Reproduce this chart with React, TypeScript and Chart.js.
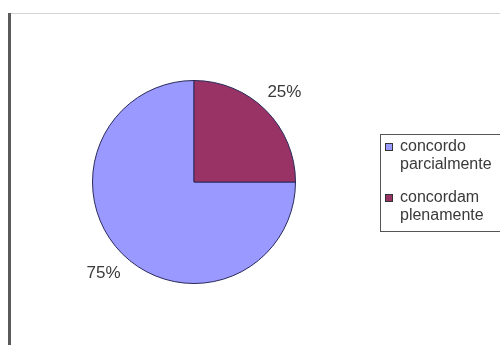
import React, { useEffect, useRef } from "react";
import { Chart, registerables } from "chart.js";

Chart.register(...registerables);

const categories: string[][] = [
  ["concordo", "parcialmente"],
  ["concordam", "plenamente"],
];
const values: number[] = [75, 25];
const percentLabels: string[] = ["75%", "25%"];
const colors: string[] = ["#9999FF", "#993366"];

const FONT = '"Liberation Sans", Arial, sans-serif';

const framePlugin = {
  id: "frame",
  beforeDraw(chart: any) {
    const ctx = chart.ctx;
    ctx.save();
    ctx.fillStyle = "#ffffff";
    ctx.fillRect(0, 0, chart.width, chart.height);
    ctx.strokeStyle = "#d4d4d4";
    ctx.lineWidth = 1;
    ctx.beginPath();
    ctx.moveTo(10, 13.5);
    ctx.lineTo(chart.width, 13.5);
    ctx.stroke();
    ctx.fillStyle = "#5a5a5a";
    ctx.fillRect(8, 13, 3, chart.height - 13);
    ctx.restore();
  },
  afterDatasetsDraw(chart: any) {
    const ctx = chart.ctx;
    const meta = chart.getDatasetMeta(0);
    ctx.save();
    ctx.font = `17px ${FONT}`;
    ctx.fillStyle = "#3a3a3a";
    ctx.textAlign = "center";
    ctx.textBaseline = "middle";
    meta.data.forEach((arc: any, i: number) => {
      const p = arc.getProps(["x", "y", "startAngle", "endAngle", "outerRadius"], true);
      const mid = (p.startAngle + p.endAngle) / 2;
      const r = p.outerRadius * 1.26;
      ctx.fillText(percentLabels[i], p.x + Math.cos(mid) * r, p.y + Math.sin(mid) * r + 1);
    });
    ctx.restore();
  },
  afterDraw(chart: any) {
    const ctx = chart.ctx;
    ctx.save();
    ctx.strokeStyle = "#555555";
    ctx.lineWidth = 1;
    ctx.strokeRect(380.5, 134.5, 140, 97);
    ctx.font = `16px ${FONT}`;
    ctx.textAlign = "left";
    ctx.textBaseline = "middle";
    const itemTop = [147, 198];
    categories.forEach((lines, i) => {
      const y = itemTop[i];
      ctx.fillStyle = colors[i];
      ctx.fillRect(386, y - 3, 6, 6);
      ctx.strokeStyle = "#333333";
      ctx.strokeRect(385.5, y - 3.5, 7, 7);
      ctx.fillStyle = "#3a3a3a";
      lines.forEach((t, j) => {
        ctx.fillText(t, 400, y + j * 18);
      });
    });
    ctx.restore();
  },
};

export default function App() {
  const ref = useRef<HTMLCanvasElement | null>(null);
  useEffect(() => {
    if (!ref.current) return;
    const chart = new Chart(ref.current, {
      type: "pie",
      data: {
        labels: categories.map((c) => c.join(" ")),
        datasets: [
          {
            data: values,
            backgroundColor: colors,
            borderColor: "#2a2a5a",
            borderWidth: 1,
          },
        ],
      },
      options: {
        responsive: false,
        animation: false,
        rotation: 90,
        layout: { padding: { left: 92, top: 80, right: 204, bottom: 61 } },
        plugins: {
          legend: { display: false },
          tooltip: { enabled: false },
        },
      },
      plugins: [framePlugin],
    });
    return () => chart.destroy();
  }, []);
  return (
    <div style={{ position: "fixed", left: 0, top: 0, width: 500, height: 345 }}>
      <canvas ref={ref} width={500} height={345} style={{ width: 500, height: 345 }} />
    </div>
  );
}
